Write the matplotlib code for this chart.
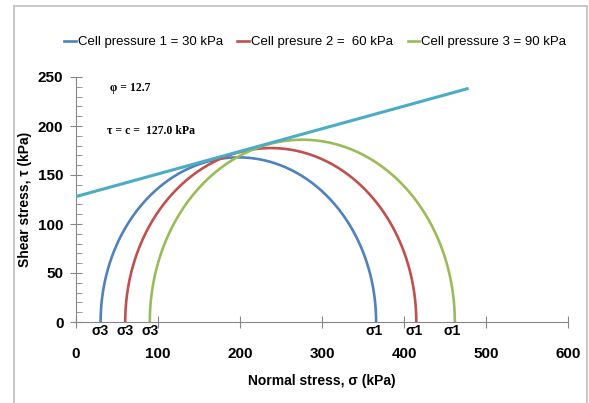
import numpy as np
import matplotlib
matplotlib.use("Agg")
import matplotlib.pyplot as plt
from matplotlib.lines import Line2D
from matplotlib.ticker import MultipleLocator

# data
labels = ["Cell pressure 1 = 30 kPa", "Cell presure 2 =  60 kPa", "Cell pressure 3 = 90 kPa"]
sigma3 = [30, 60, 90]
sigma1 = [366, 415, 462]
colors = ["#4F81BD", "#C0504D", "#9BBB59"]

env_x = [0, 477]
env_y = [128, 238]
env_color = "#4BACC6"

sans = ["Liberation Sans", "DejaVu Sans"]

fig = plt.figure(figsize=(5.89, 4.03), dpi=100)
ax = fig.add_axes([76 / 589, 81 / 403, 492 / 589, 245 / 403])

for s3, s1, c, lab in zip(sigma3, sigma1, colors, labels):
    center = (s1 + s3) / 2
    r = (s1 - s3) / 2
    t = np.linspace(0, np.pi, 300)
    ax.plot(center + r * np.cos(t), r * np.sin(t), color=c, lw=1.9, label=lab)
    ax.text(s3, -2, "σ3", ha="center", va="top", fontsize=10, fontweight="bold", family=sans)
    ax.text(s1 - 3, -2, "σ1", ha="center", va="top", fontsize=10, fontweight="bold", family=sans)

ax.plot(env_x, env_y, color=env_color, lw=2.2, zorder=5)

ax.text(41, 239, "φ = 12.7", fontsize=8.5, fontweight="bold", family="Liberation Serif", va="center")
ax.text(38, 195, "τ = c =  127.0 kPa", fontsize=8.5, fontweight="bold", family="Liberation Serif",
        va="center")

ax.set_xlim(0, 600)
ax.set_ylim(0, 250)
ax.xaxis.set_major_locator(MultipleLocator(100))
ax.yaxis.set_major_locator(MultipleLocator(50))
ax.yaxis.set_minor_locator(MultipleLocator(10))
for s in ["top", "right"]:
    ax.spines[s].set_visible(False)
for s in ["left", "bottom"]:
    ax.spines[s].set_color("#868686")
ax.tick_params(axis="both", which="major", direction="inout", length=8, color="#868686",
               labelsize=11)
ax.tick_params(axis="y", which="minor", direction="in", length=4, color="#868686")
ax.tick_params(axis="x", pad=14)
ax.tick_params(axis="y", pad=5)
for lbl in ax.get_xticklabels() + ax.get_yticklabels():
    lbl.set_fontweight("bold")
    lbl.set_family(sans)

ax.set_xlabel("Normal stress, σ (kPa)", fontsize=10, fontweight="bold", family=sans, labelpad=9)
ax.set_ylabel("Shear stress, τ (kPa)", fontsize=10, fontweight="bold", family=sans, labelpad=4)

leg = fig.legend(loc="center", bbox_to_anchor=(0.535, 0.895), ncol=3, frameon=False,
                 prop={"family": sans, "size": 9.5}, handlelength=0.9,
                 handletextpad=0.15, columnspacing=1.1)

# outer frame
fc = "#BFBFBF"
fig.add_artist(Line2D([14 / 589, 14 / 589], [0, 1 - 6 / 403], color=fc, lw=1.2))
fig.add_artist(Line2D([14 / 589, 587 / 589], [1 - 6 / 403, 1 - 6 / 403], color=fc, lw=1.2))
fig.add_artist(Line2D([587 / 589, 587 / 589], [0, 1 - 6 / 403], color=fc, lw=1.2))

fig.savefig("out.png", dpi=100)
